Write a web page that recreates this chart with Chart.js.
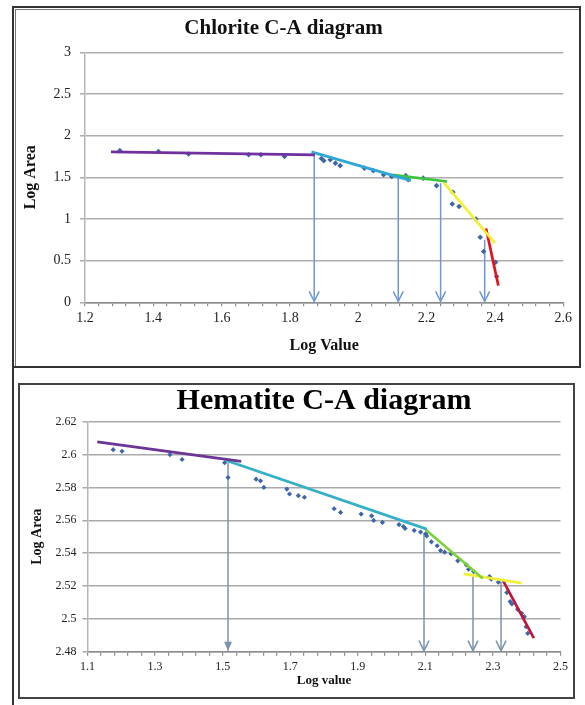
<!DOCTYPE html>
<html>
<head>
<meta charset="utf-8">
<script src="https://cdn.jsdelivr.net/npm/chart.js@4.4.0/dist/chart.umd.min.js"></script>
<style>
  html, body { margin: 0; padding: 0; background: #fff; }
  body { width: 585px; height: 705px; position: relative; overflow: hidden; }
  .frame { position: absolute; box-sizing: border-box; }
  #f1 { left: 12px; top: 6px; width: 569px; height: 362px; border: 2px solid #333; }
  #f1in { position: absolute; left: 1px; top: 1px; right: 0; bottom: 0; border-left: 1px solid #777; border-top: 1px solid #777; }
  #f2line { left: 12px; top: 366px; width: 2px; height: 339px; background: #333; }
  #f2 { left: 18px; top: 383px; width: 557px; height: 316px; border: 2px solid #444; }
  canvas { position: absolute; }
  #c1 { left: 0; top: 11px; }
  #c2 { left: 20px; top: 386px; }
</style>
</head>
<body>
<div class="frame" id="f1"><div id="f1in"></div></div>
<div class="frame" id="f2line"></div>
<div class="frame" id="f2"></div>
<canvas id="c1" width="576" height="352"></canvas>
<canvas id="c2" width="552" height="310"></canvas>
<script>
// ---- Chlorite C-A data (log value vs log area) ----
const chlX = [1.302, 1.415, 1.503, 1.679, 1.715, 1.784, 1.892, 1.899, 1.918, 1.933, 1.947, 2.018, 2.044, 2.074, 2.098, 2.139, 2.146, 2.19, 2.229, 2.277, 2.275, 2.295, 2.344, 2.357, 2.367, 2.402, 2.405];
const chlY = [1.82, 1.81, 1.78, 1.77, 1.77, 1.75, 1.725, 1.70, 1.71, 1.67, 1.64, 1.61, 1.58, 1.53, 1.51, 1.52, 1.47, 1.49, 1.40, 1.32, 1.18, 1.15, 1.00, 0.78, 0.61, 0.48, 0.31];
// fitted segments: [start, end]
const chlLineX = [[1.276, 1.873], [1.863, 2.154], [2.10, 2.26], [2.25, 2.40], [2.374, 2.41]];
const chlLineY = [[1.805, 1.77], [1.805, 1.46], [1.53, 1.45], [1.44, 0.71], [0.885, 0.20]];
// threshold arrows
const chlArrowX = [1.871, 2.117, 2.241, 2.370];
const chlArrowTop = [1.80, 1.505, 1.43, 0.75];
const chlXLabels = [1.2, 1.4, 1.6, 1.8, 2, 2.2, 2.4, 2.6];
const chlYLabels = [0, 0.5, 1, 1.5, 2, 2.5, 3];

// ---- Hematite C-A data ----
const hemX = [1.176, 1.202, 1.344, 1.380, 1.506, 1.516, 1.599, 1.612, 1.622, 1.690, 1.698, 1.724, 1.742, 1.830, 1.849, 1.910, 1.941, 1.947, 1.973, 2.022, 2.035, 2.040, 2.067, 2.086, 2.101, 2.104, 2.118, 2.135, 2.145, 2.157, 2.176, 2.196, 2.221, 2.228, 2.243, 2.290, 2.295, 2.316, 2.341, 2.351, 2.356, 2.373, 2.385, 2.393, 2.398, 2.403];
const hemY = [2.603, 2.602, 2.600, 2.597, 2.595, 2.586, 2.585, 2.584, 2.580, 2.579, 2.576, 2.575, 2.574, 2.567, 2.5648, 2.5638, 2.5627, 2.5599, 2.5587, 2.5574, 2.5562, 2.555, 2.5538, 2.5528, 2.5518, 2.5505, 2.5469, 2.5445, 2.5416, 2.5406, 2.5396, 2.5353, 2.5329, 2.5302, 2.5288, 2.5257, 2.5241, 2.5223, 2.516, 2.5105, 2.5091, 2.5058, 2.5034, 2.5013, 2.4952, 2.4912];
const hemLineX = [[1.129, 1.555], [1.509, 2.104], [2.101, 2.27], [2.213, 2.385], [2.330, 2.421]];
const hemLineY = [[2.6077, 2.5959], [2.5965, 2.5546], [2.5542, 2.5245], [2.5274, 2.5217], [2.5233, 2.4882]];
const hemArrowX = [1.516, 2.096, 2.241, 2.324];
const hemArrowTop = [2.595, 2.552, 2.5257, 2.5227];
const hemXLabels = [1.1, 1.3, 1.5, 1.7, 1.9, 2.1, 2.3, 2.5];
const hemYLabels = [2.48, 2.5, 2.52, 2.54, 2.56, 2.58, 2.6, 2.62];

const serif = "'Liberation Serif', 'Times New Roman', serif";

// major labels plus 4 minor ticks between each pair
function withMinor(labels) {
  const out = [];
  for (let i = 0; i < labels.length - 1; i++) {
    const step = (labels[i + 1] - labels[i]) / 5;
    for (let k = 0; k < 5; k++) out.push(labels[i] + k * step);
  }
  out.push(labels[labels.length - 1]);
  return out;
}
function labelFor(labels) {
  return v => {
    const l = labels.find(m => Math.abs(m - v) < 1e-9);
    return l === undefined ? '' : String(l);
  };
}

function segDatasets(xs, ys, colors, width) {
  return xs.map((sx, i) => ({
    data: [{x: sx[0], y: ys[i][0]}, {x: sx[1], y: ys[i][1]}],
    showLine: true,
    borderColor: colors[i],
    borderWidth: width,
    pointRadius: 0,
    order: 0
  }));
}

function arrows(xs, tops, color, filledFirst) {
  return {
    id: 'arrows',
    beforeDatasetsDraw(chart) {
      const {ctx, scales: {x, y}} = chart;
      ctx.save();
      ctx.strokeStyle = color;
      ctx.fillStyle = color;
      ctx.lineWidth = 1.5;
      xs.forEach((xv, i) => {
        const px = x.getPixelForValue(xv);
        const top = y.getPixelForValue(tops[i]);
        const bot = y.getPixelForValue(y.min) - 1;
        ctx.beginPath();
        ctx.moveTo(px, top);
        ctx.lineTo(px, bot);
        ctx.stroke();
        ctx.beginPath();
        if (filledFirst && i === 0) {
          ctx.moveTo(px - 4, bot - 9);
          ctx.lineTo(px + 4, bot - 9);
          ctx.lineTo(px, bot);
          ctx.closePath();
          ctx.fill();
        } else {
          ctx.moveTo(px - 5, bot - 10);
          ctx.lineTo(px, bot);
          ctx.lineTo(px + 5, bot - 10);
          ctx.stroke();
        }
      });
      ctx.restore();
    }
  };
}

// Chlorite chart
new Chart(document.getElementById('c1'), {
  type: 'scatter',
  data: {
    datasets: [
      ...segDatasets(chlLineX, chlLineY, ['#7030a0', '#2ea6d6', '#3cc43c', '#f0f032', '#e3121b'], 2.7),
      {
        data: chlX.map((v, i) => ({x: v, y: chlY[i]})),
        pointStyle: 'rectRot',
        pointRadius: 2.8,
        backgroundColor: '#3e66a6',
        borderWidth: 0,
        order: 1
      }
    ]
  },
  options: {
    responsive: false,
    animation: false,
    layout: { padding: { left: 0, right: 9, top: 0, bottom: 0 } },
    plugins: {
      legend: { display: false },
      tooltip: { enabled: false },
      title: {
        display: true,
        text: 'Chlorite C-A diagram',
        color: '#111',
        font: { family: serif, size: 21, weight: 'bold', lineHeight: 1.2 },
        padding: { top: 5, bottom: 11.1 }
      }
    },
    scales: {
      x: {
        type: 'linear',
        min: 1.2, max: 2.6,
        afterBuildTicks: s => { s.ticks = withMinor(chlXLabels).map(v => ({value: v})); },
        afterFit: s => { s.height = 60.7; },
        ticks: { autoSkip: false, maxRotation: 0, padding: 4, color: '#222', font: { family: serif, size: 14 }, callback: labelFor(chlXLabels) },
        grid: { drawOnChartArea: false, tickLength: 4, color: '#8c8c8c', lineWidth: 1.2 },
        border: { color: '#8c8c8c', width: 1.5 },
        title: { display: true, text: 'Log Value', color: '#111', font: { family: serif, size: 16, weight: 'bold', lineHeight: 1.2 }, padding: { top: 0, bottom: 7.8 } }
      },
      y: {
        type: 'linear',
        min: 0, max: 3,
        afterBuildTicks: s => { s.ticks = chlYLabels.map(v => ({value: v})); },
        afterFit: s => { s.width = 85; },
        ticks: { padding: 9, color: '#222', font: { family: serif, size: 14 }, callback: labelFor(chlYLabels) },
        grid: { color: '#adadad', lineWidth: 1.5, tickLength: 5 },
        border: { color: '#b5b5b5', width: 1.5 },
        title: { display: true, text: 'Log Area', color: '#111', font: { family: serif, size: 16, weight: 'bold', lineHeight: 1.2 }, padding: { top: 21, bottom: 0 } }
      }
    }
  },
  plugins: [arrows(chlArrowX, chlArrowTop, '#6f97d6', false)]
});

// Hematite chart
new Chart(document.getElementById('c2'), {
  type: 'scatter',
  data: {
    datasets: [
      ...segDatasets(hemLineX, hemLineY, ['#6a3596', '#35b0c4', '#7fd23c', '#f3f03c', '#c01438'], 2.7),
      {
        data: hemX.map((v, i) => ({x: v, y: hemY[i]})),
        pointStyle: 'rectRot',
        pointRadius: 2.6,
        backgroundColor: '#3e66a6',
        borderWidth: 0,
        order: 1
      }
    ]
  },
  options: {
    responsive: false,
    animation: false,
    layout: { padding: { left: 0, right: 8, top: 0, bottom: 0 } },
    plugins: {
      legend: { display: false },
      tooltip: { enabled: false },
      title: {
        display: true,
        fullSize: false,
        text: 'Hematite C-A diagram',
        color: '#000',
        font: { family: serif, size: 30, weight: 'bold', lineHeight: 1.0 },
        padding: { top: 0, bottom: 5.7 }
      }
    },
    scales: {
      x: {
        type: 'linear',
        min: 1.1, max: 2.5,
        afterBuildTicks: s => { s.ticks = withMinor(hemXLabels).map(v => ({value: v})); },
        afterFit: s => { s.height = 44.3; },
        ticks: { autoSkip: false, maxRotation: 0, padding: 4, color: '#222', font: { family: serif, size: 12 }, callback: labelFor(hemXLabels) },
        grid: { drawOnChartArea: false, tickLength: 4, color: '#8c8c8c', lineWidth: 1.2 },
        border: { color: '#8c8c8c', width: 1.5 },
        title: { display: true, text: 'Log value', color: '#111', font: { family: serif, size: 13, weight: 'bold', lineHeight: 1.2 }, padding: { top: 0, bottom: 7.5 } }
      },
      y: {
        type: 'linear',
        min: 2.48, max: 2.62,
        afterBuildTicks: s => { s.ticks = hemYLabels.map(v => ({value: v})); },
        afterFit: s => { s.width = 67.5; },
        ticks: { padding: 6, color: '#222', font: { family: serif, size: 12 }, callback: labelFor(hemYLabels) },
        grid: { color: '#a9a9a9', lineWidth: 1.5, tickLength: 5 },
        border: { color: '#b5b5b5', width: 1.5 },
        title: { display: true, text: 'Log Area', color: '#111', font: { family: serif, size: 14, weight: 'bold', lineHeight: 1.2 }, padding: { top: 9, bottom: 0 } }
      }
    }
  },
  plugins: [arrows(hemArrowX, hemArrowTop, '#7d93ad', true)]
});
</script>
</body>
</html>
